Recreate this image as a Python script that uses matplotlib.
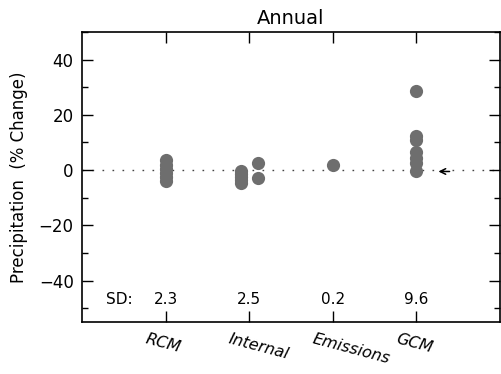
import matplotlib
matplotlib.use("Agg")
import matplotlib.pyplot as plt
from matplotlib.ticker import MultipleLocator

categories = ["RCM", "Internal", "Emissions", "GCM"]
rcm = [3.5, 2.0, 0.5, -1.0, -2.5, -4.0]
internal_a = [-0.5, -1.5, -2.5, -3.5, -4.5]
internal_b = [2.5, -3.0]
emissions = [2.0]
gcm = [28.5, 12.5, 11.0, 6.5, 4.5, 2.5, -0.5]
sd_values = ["2.3", "2.5", "0.2", "9.6"]
yticks = [-40, -20, 0, 20, 40]

fig = plt.figure(figsize=(5.01, 3.74), dpi=100)
ax = fig.add_axes([82 / 501, 52 / 374, 418 / 501, 290 / 374])

col = "#6e6e6e"
ms = 9.5
ax.plot([1] * len(rcm), rcm, "o", color=col, ms=ms, mec="none")
ax.plot([1.9] * len(internal_a), internal_a, "o", color=col, ms=ms, mec="none")
ax.plot([2.1] * len(internal_b), internal_b, "o", color=col, ms=ms, mec="none")
ax.plot([3] * len(emissions), emissions, "o", color=col, ms=ms, mec="none")
ax.plot([4] * len(gcm), gcm, "o", color=col, ms=ms, mec="none")

ax.axhline(0, color="#444444", lw=1, ls=(0, (1.2, 6)), zorder=0)

ax.annotate("", xy=(4.23, gcm[-1]), xytext=(4.43, gcm[-1]),
            arrowprops=dict(arrowstyle="->", color="black", lw=1.1))

ax.set_xlim(0, 5)
ax.set_ylim(-55, 50)
ax.set_xticks(range(1, 5))
ax.set_xticklabels([])
ax.set_yticks(yticks)
ax.set_yticklabels(["\u2212" + str(-t) if t < 0 else str(t) for t in yticks], fontsize=12)
ax.yaxis.set_minor_locator(MultipleLocator(10))
ax.tick_params(axis="both", which="major", direction="in", length=8, width=1,
               top=True, right=True, pad=6)
ax.tick_params(axis="both", which="minor", direction="in", length=4, width=1,
               top=True, right=True)
ax.tick_params(axis="x", which="minor", top=False, bottom=False)
for s in ax.spines.values():
    s.set_linewidth(1.2)

for i, (c, sd) in enumerate(zip(categories, sd_values)):
    x = i + 1
    ax.text(x, -47, sd, ha="center", va="center", fontsize=11)
    ax.annotate(c, xy=(x, -55), xycoords="data", xytext=(-13, -7),
                textcoords="offset points", ha="left", va="top",
                rotation=-15, rotation_mode="anchor", fontsize=11.5,
                style="italic", annotation_clip=False)
ax.text(0.45, -47, "SD:", ha="center", va="center", fontsize=11)

ax.set_title("Annual", fontsize=14, pad=6)
ax.set_ylabel("Precipitation  (% Change)", fontsize=12, labelpad=8)

fig.savefig("out.png", dpi=100)
